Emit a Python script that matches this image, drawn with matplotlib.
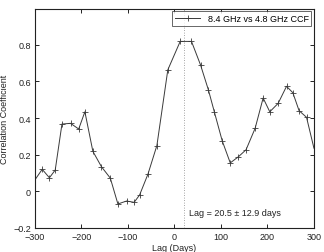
import matplotlib
matplotlib.use("Agg")
import matplotlib.pyplot as plt

lag = [-300, -284.5, -269, -256.5, -242, -223.6, -206, -192.7, -175.5, -157, -138,
       -121.7, -103, -86.7, -75, -57, -37.8, -14.3, 12.3, 36.6, 56, 73, 86, 102.6,
       120, 137.7, 154, 173.5, 190.7, 205, 223, 241, 254.6, 268, 284, 300]
ccf = [0.063, 0.12, 0.074, 0.116, 0.367, 0.371, 0.34, 0.434, 0.218, 0.134, 0.072,
       -0.069, -0.053, -0.06, -0.02, 0.094, 0.25, 0.663, 0.818, 0.818, 0.69, 0.553,
       0.431, 0.276, 0.155, 0.189, 0.227, 0.344, 0.509, 0.434, 0.48, 0.573, 0.538,
       0.44, 0.404, 0.235]
lag_best = 20.5
lag_err = 12.9
xticks = [-300, -200, -100, 0, 100, 200, 300]
yticks = [-0.2, 0, 0.2, 0.4, 0.6, 0.8]

plt.rcParams['font.family'] = ['Liberation Sans', 'DejaVu Sans']
fig = plt.figure(figsize=(3.24, 2.53), dpi=100)
ax = fig.add_axes([0.108, 0.095, 0.861, 0.867])

ax.plot(lag, ccf, color='#3a3a3a', lw=0.7, marker='+', ms=5, mew=0.6,
        markevery=list(range(1, len(lag) - 1)), label='8.4 GHz vs 4.8 GHz CCF')
ax.axvline(lag_best, color='#888888', lw=0.6, ls=(0, (1, 2)))
ax.text(32, -0.113, 'Lag = %.1f \u00b1 %.1f days' % (lag_best, lag_err),
        fontsize=6.5, va='center', ha='left', color='#222222')

ax.set_xlim(-300, 300)
ax.set_ylim(-0.2, 0.997)
ax.set_xticks(xticks)
ax.set_xticklabels(['\u2212300', '\u2212200', '\u2212100', '0', '100', '200', '300'])
ax.set_yticks(yticks)
ax.set_yticklabels(['\u22120.2', '0', '0.2', '0.4', '0.6', '0.8'])
ax.tick_params(direction='in', top=True, right=True, labelsize=6.5, length=3,
               width=0.6, pad=3, labelcolor='#222222')
for s in ax.spines.values():
    s.set_linewidth(0.8)
    s.set_color('#222222')
ax.set_xlabel('Lag (Days)', fontsize=6.5, labelpad=1, color='#222222')
ax.set_ylabel('Correlation Coefficient', fontsize=6.5, labelpad=3, color='#222222')

leg = ax.legend(loc='upper right', fontsize=6.5, frameon=True, fancybox=False,
                borderpad=0.3, handlelength=2.8, borderaxespad=0.3)
leg.get_frame().set_edgecolor('#222222')
leg.get_frame().set_linewidth(0.6)

fig.savefig('out.png', dpi=100)
